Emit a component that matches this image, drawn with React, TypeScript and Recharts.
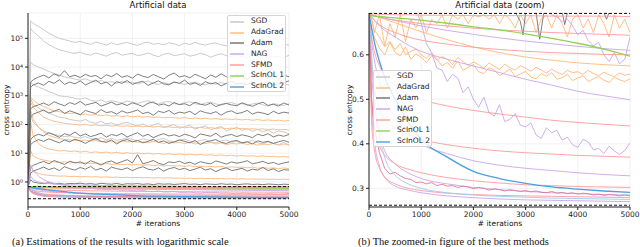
import React from "react";
import { LineChart, Line, XAxis, YAxis, CartesianGrid, ReferenceLine } from "recharts";

// iteration grids
const ITER = [
  0, 50, 100, 200, 300, 400, 500, 600, 700, 800, 900,
  1000, 1100, 1200, 1300, 1400, 1500, 1600, 1700, 1800, 1900,
  2000, 2100, 2200, 2300, 2400, 2500, 2600, 2700, 2800, 2900,
  3000, 3100, 3200, 3300, 3400, 3500, 3600, 3700, 3800, 3900,
  4000, 4100, 4200, 4300, 4400, 4500, 4600, 4700, 4800, 4900, 5000,
];
const ITER_SMOOTH = [0, 50, 100, 200, 300, 500, 750, 1000, 1500, 2000, 2500, 3000, 3500, 4000, 4500, 5000];
const ADAM_SPIKE_ITER = [0, 100, 500, 1000, 2000, 2800, 2900, 2950, 3000, 3200, 3270, 3350, 3700, 3750, 3800, 4500, 4550, 4600, 5000];

// SGD
const SGD_1 = [
  0.693, 400000, 330000, 260000, 200000, 150000, 120000, 100000, 90000, 80000, 72000,
  78000, 68000, 62000, 74000, 66000, 58000, 70000, 60000, 66000, 72000,
  63000, 57000, 68000, 74000, 62000, 66000, 59000, 70000, 64000, 56000,
  67000, 61000, 72000, 63000, 58000, 66000, 69000, 60000, 55000, 64000,
  70000, 61000, 57000, 66000, 62000, 55000, 68000, 60000, 52000, 63000, 58000,
];
const SGD_2 = [
  0.693, 220000, 170000, 120000, 80000, 60000, 48000, 40000, 36000, 32000, 30000,
  33000, 28000, 26000, 31000, 27000, 24000, 29000, 32000, 26000, 28000,
  30000, 25000, 27000, 31000, 26000, 23000, 28000, 30000, 25000, 27000,
  29000, 24000, 26000, 30000, 27000, 22000, 26000, 29000, 25000, 23000,
  27000, 24000, 21000, 26000, 24000, 20000, 25000, 22000, 24000, 21000, 26000,
];
const SGD_3 = [
  0.693, 15000, 12000, 10000, 8500, 7000, 6000, 5200, 4500, 4200, 3800,
  3500, 3900, 3300, 3000, 3400, 2900, 3100, 2700, 3200, 2800,
  3000, 2600, 2900, 3300, 2700, 2500, 2900, 2600, 3100, 2700,
  2500, 2800, 3000, 2600, 2400, 2800, 2500, 2900, 2600, 2300,
  2700, 2500, 2800, 2400, 2600, 2200, 2700, 2500, 2300, 2600, 2400,
];
const SGD_4 = [
  0.693, 3000, 2400, 2000, 1700, 1400, 1200, 1000, 950, 900, 820,
  760, 850, 700, 640, 720, 600, 680, 620, 560, 650,
  600, 540, 620, 680, 560, 520, 600, 640, 540, 500,
  580, 620, 530, 490, 560, 600, 520, 470, 550, 580,
  500, 540, 460, 520, 560, 480, 440, 530, 500, 460, 520,
];
const SGD_5 = [
  0.693, 800, 500, 380, 300, 250, 210, 180, 170, 150, 140,
  130, 150, 120, 110, 130, 105, 115, 95, 110, 120,
  100, 90, 105, 85, 95, 110, 80, 90, 100, 75,
  85, 95, 70, 80, 90, 65, 75, 85, 60, 70,
  80, 62, 72, 58, 68, 55, 65, 50, 60, 55, 48,
];
const SGD_6 = [
  0.693, 200, 120, 80, 60, 50, 45, 42, 38, 40, 36,
  34, 38, 32, 30, 35, 29, 33, 28, 31, 34,
  30, 27, 32, 29, 26, 30, 33, 27, 25, 29,
  31, 26, 24, 28, 30, 25, 23, 27, 29, 24,
  26, 22, 25, 28, 23, 21, 25, 22, 20, 24, 19,
];

// AdaGrad
const ADAGRAD_1 = [
  0.693, 900, 700, 520, 420, 350, 300, 280, 260, 240, 250,
  220, 235, 210, 225, 200, 215, 195, 205, 190, 200,
  185, 195, 180, 190, 175, 185, 170, 180, 172, 165,
  175, 160, 170, 158, 165, 155, 162, 150, 158, 148,
  155, 145, 152, 140, 150, 138, 146, 135, 142, 132, 138,
];
const ADAGRAD_2 = [
  0.693, 600, 400, 260, 180, 150, 130, 120, 110, 105, 100,
  96, 102, 92, 98, 90, 95, 88, 93, 86, 91,
  85, 89, 83, 88, 81, 86, 80, 84, 78, 83,
  77, 81, 76, 80, 74, 78, 73, 77, 72, 75,
  70, 74, 69, 72, 68, 71, 66, 70, 65, 68, 64,
];
const ADAGRAD_3 = [
  0.693, 300, 150, 80, 55, 42, 36, 33, 30, 29, 28,
  27, 29, 26, 28, 25, 27, 26, 24, 27, 25,
  26, 24, 25, 23, 26, 24, 22, 25, 23, 24,
  22, 24, 21, 23, 22, 24, 21, 23, 20, 22,
  21, 23, 20, 22, 19, 21, 20, 22, 19, 21, 20,
];
const ADAGRAD_4 = [
  0.693, 120, 40, 22, 16, 14, 13, 12, 12.5, 11.5, 12,
  11, 11.8, 10.6, 11.2, 10.4, 11, 10.2, 10.8, 9.9, 10.5,
  9.8, 10.3, 9.6, 10.1, 9.4, 9.9, 9.2, 9.7, 9.0, 9.5,
  8.9, 9.3, 8.7, 9.1, 8.5, 8.9, 8.4, 8.7, 8.2, 8.6,
  8.0, 8.4, 7.9, 8.2, 7.8, 8.1, 7.6, 7.9, 7.4, 7.7, 7.3,
];
const ADAGRAD_5 = [
  0.693, 12, 8, 6.5, 5.8, 5.4, 5.0, 4.8, 5.1, 4.6, 4.9,
  4.5, 4.7, 4.3, 4.6, 4.2, 4.4, 4.1, 4.3, 4.0, 4.2,
  3.9, 4.1, 3.8, 4.0, 3.7, 3.9, 3.6, 3.8, 3.6, 3.7,
  3.5, 3.7, 3.4, 3.6, 3.4, 3.5, 3.3, 3.5, 3.2, 3.4,
  3.2, 3.3, 3.1, 3.3, 3.0, 3.2, 3.0, 3.1, 2.9, 3.1, 2.9,
];
const ADAGRAD_6 = [
  0.693, 3.5, 2.4, 2.0, 1.8, 1.7, 1.65, 1.6, 1.62, 1.55, 1.58,
  1.52, 1.55, 1.5, 1.53, 1.47, 1.5, 1.45, 1.48, 1.43, 1.46,
  1.42, 1.44, 1.4, 1.43, 1.38, 1.41, 1.37, 1.4, 1.35, 1.38,
  1.34, 1.36, 1.32, 1.35, 1.31, 1.33, 1.3, 1.32, 1.28, 1.31,
  1.27, 1.3, 1.26, 1.28, 1.25, 1.27, 1.24, 1.26, 1.23, 1.25, 1.22,
];
const ADAGRAD_7 = [
  0.693, 0.66, 0.64, 0.615, 0.6, 0.628, 0.605, 0.598, 0.618, 0.59, 0.602,
  0.595, 0.582, 0.598, 0.59, 0.575, 0.583, 0.57, 0.586, 0.565, 0.572,
  0.578, 0.562, 0.558, 0.571, 0.566, 0.553, 0.56, 0.568, 0.551, 0.557,
  0.563, 0.55, 0.546, 0.558, 0.552, 0.56, 0.545, 0.549, 0.556, 0.542,
  0.548, 0.553, 0.54, 0.546, 0.551, 0.543, 0.538, 0.549, 0.544, 0.54, 0.546,
];
const ADAGRAD_8 = [
  0.693, 0.68, 0.655, 0.64, 0.618, 0.63, 0.612, 0.625, 0.6, 0.608, 0.613,
  0.6, 0.592, 0.605, 0.588, 0.596, 0.59, 0.578, 0.594, 0.585, 0.576,
  0.584, 0.578, 0.57, 0.582, 0.574, 0.567, 0.579, 0.571, 0.566, 0.575,
  0.57, 0.563, 0.572, 0.566, 0.559, 0.568, 0.561, 0.556, 0.565, 0.56,
  0.562, 0.556, 0.565, 0.558, 0.553, 0.561, 0.555, 0.551, 0.559, 0.554, 0.557,
];
const ADAGRAD_9 = [
  0.693, 0.68, 0.65, 0.69, 0.62, 0.67, 0.64, 0.69, 0.63, 0.68, 0.66,
  0.69, 0.65, 0.68, 0.67, 0.69, 0.66, 0.69, 0.68, 0.69, 0.67,
  0.69, 0.685, 0.69, 0.68, 0.69, 0.67, 0.69, 0.68, 0.66, 0.69,
  0.67, 0.69, 0.65, 0.68, 0.69, 0.66, 0.69, 0.67, 0.64, 0.68,
  0.69, 0.66, 0.68, 0.65, 0.69, 0.67, 0.64, 0.69, 0.66, 0.68, 0.65,
];
const ADAGRAD_SMOOTH = [0.693, 0.69, 0.688, 0.684, 0.68, 0.672, 0.662, 0.652, 0.634, 0.618, 0.605, 0.595, 0.588, 0.582, 0.578, 0.575];

// Adam
const ADAM_1 = [
  0.693, 3000, 3600, 4500, 5200, 4200, 5800, 4800, 7500, 4600, 5200,
  4300, 5600, 4700, 5100, 3900, 5400, 4600, 6000, 4400, 5000,
  4100, 5700, 4800, 4300, 5500, 4600, 3800, 5200, 6200, 4500,
  5000, 4200, 5600, 4700, 3900, 5300, 4400, 5800, 4600, 4100,
  5400, 4700, 3700, 5100, 4500, 5900, 4200, 4900, 3800, 5200, 4600,
];
const ADAM_2 = [
  0.693, 2000, 2400, 2800, 2300, 3200, 2700, 3600, 2500, 3000, 2600,
  3300, 2400, 2900, 3500, 2600, 3000, 2200, 3100, 2700, 3400,
  2500, 2900, 3200, 2300, 2800, 3300, 2600, 2400, 3000, 2700,
  3500, 2500, 2800, 2300, 3100, 2600, 2900, 2200, 2700, 3200,
  2500, 2800, 2400, 3000, 2100, 2700, 3100, 2400, 2600, 2900, 3300,
];
const ADAM_3 = [
  0.693, 350, 420, 480, 560, 460, 620, 520, 450, 580, 500,
  640, 470, 530, 590, 440, 510, 600, 480, 540, 460,
  570, 500, 420, 550, 610, 470, 520, 440, 580, 490,
  530, 450, 600, 510, 470, 560, 420, 500, 540, 480,
  450, 570, 490, 430, 520, 600, 460, 510, 440, 560, 480,
];
const ADAM_4 = [
  0.693, 180, 230, 270, 320, 250, 290, 340, 240, 300, 260,
  220, 310, 270, 240, 330, 260, 280, 230, 300, 250,
  280, 320, 240, 270, 210, 290, 260, 310, 230, 270,
  250, 290, 220, 300, 260, 240, 280, 210, 270, 300,
  240, 260, 310, 230, 270, 250, 220, 290, 240, 270, 250,
];
const ADAM_5 = [
  0.693, 30, 38, 46, 40, 52, 44, 36, 48, 42, 55,
  40, 47, 38, 43, 50, 36, 45, 41, 49, 37,
  44, 52, 39, 46, 35, 42, 48, 40, 44, 38,
  46, 41, 34, 47, 43, 39, 50, 36, 42, 45,
  38, 44, 40, 35, 46, 41, 48, 37, 43, 39, 45,
];
const ADAM_6 = [
  0.693, 20, 24, 30, 26, 32, 27, 23, 29, 25, 31,
  27, 22, 28, 33, 26, 24, 29, 21, 27, 30,
  25, 28, 23, 26, 31, 24, 27, 22, 25, 29,
  26, 23, 28, 20, 25, 27, 30, 24, 22, 26,
  28, 23, 25, 21, 27, 24, 26, 22, 25, 28, 24,
];
const ADAM_7 = [
  0.693, 3.2, 3.8, 4.5, 5.2, 4.3, 5.6, 4.8, 4.1, 5.3, 4.6,
  5.0, 4.2, 5.5, 4.7, 3.9, 4.9, 5.4, 4.4, 5.1, 6.0,
  4.6, 9.0, 4.3, 4.8, 5.6, 4.5, 4.0, 5.0, 4.7, 5.3,
  4.4, 4.9, 4.1, 5.1, 4.6, 4.3, 5.4, 4.8, 4.2, 5.0,
  4.5, 4.9, 5.5, 4.3, 4.7, 5.2, 4.4, 4.8, 4.1, 4.6, 5.0,
];
const ADAM_8 = [
  0.693, 2.0, 2.4, 2.8, 3.3, 2.7, 3.1, 2.5, 3.4, 2.9, 2.6,
  3.2, 2.8, 3.5, 2.6, 3.0, 2.4, 3.3, 2.9, 2.7, 3.1,
  2.5, 3.0, 3.4, 2.8, 2.6, 3.1, 2.4, 2.9, 3.2, 2.7,
  3.0, 2.5, 2.8, 3.3, 2.6, 2.9, 2.3, 2.8, 3.1, 2.5,
  2.7, 3.0, 2.4, 2.8, 2.6, 3.2, 2.5, 2.9, 2.3, 2.7, 2.6,
];
const ADAM_9 = [
  0.693, 1.2, 1.0, 0.92, 0.88, 0.95, 0.86, 0.9, 0.84, 0.89, 0.87,
  0.91, 0.85, 0.88, 0.83, 0.9, 0.86, 0.84, 0.89, 0.82, 0.87,
  0.85, 0.88, 0.83, 0.86, 0.81, 0.87, 0.84, 0.86, 0.82, 0.85,
  0.88, 0.83, 0.85, 0.81, 0.86, 0.84, 0.82, 0.87, 0.83, 0.85,
  0.8, 0.84, 0.86, 0.82, 0.84, 0.81, 0.85, 0.83, 0.8, 0.84, 0.82,
];
const ADAM_SPIKES = [0.693, 0.7, 0.698, 0.697, 0.697, 0.697, 0.675, 0.645, 0.695, 0.696, 0.635, 0.695, 0.696, 0.668, 0.695, 0.696, 0.68, 0.695, 0.696];

// NAG
const NAG_NOISY_1 = [
  0.693, 4.0, 2.5, 1.6, 1.2, 1.0, 0.9, 0.82, 0.76, 0.72, 0.7,
  0.672, 0.625, 0.605, 0.57, 0.566, 0.54, 0.556, 0.548, 0.515, 0.528,
  0.5, 0.482, 0.505, 0.47, 0.462, 0.488, 0.45, 0.455, 0.468, 0.442,
  0.438, 0.447, 0.42, 0.412, 0.436, 0.425, 0.43, 0.408, 0.415, 0.398,
  0.392, 0.41, 0.404, 0.386, 0.39, 0.378, 0.395, 0.384, 0.376, 0.385, 0.402,
];
const NAG_NOISY_2 = [
  0.693, 1.6, 1.2, 1.0, 0.92, 0.88, 0.85, 0.83, 0.81, 0.8, 0.79,
  0.78, 0.77, 0.775, 0.76, 0.765, 0.75, 0.755, 0.745, 0.75, 0.74,
  0.745, 0.735, 0.74, 0.73, 0.735, 0.725, 0.73, 0.72, 0.725, 0.715,
  0.72, 0.71, 0.715, 0.705, 0.7, 0.69, 0.685, 0.675, 0.68, 0.665,
  0.645, 0.655, 0.632, 0.62, 0.628, 0.6, 0.585, 0.605, 0.58, 0.59, 0.64,
];
const NAG_1 = [0.693, 0.685, 0.678, 0.665, 0.655, 0.64, 0.622, 0.608, 0.59, 0.575, 0.56, 0.545, 0.532, 0.518, 0.508, 0.499];
const NAG_2 = [0.693, 0.69, 0.688, 0.685, 0.682, 0.677, 0.671, 0.665, 0.655, 0.646, 0.638, 0.631, 0.625, 0.619, 0.614, 0.61];
const NAG_3 = [0.693, 0.63, 0.59, 0.54, 0.5, 0.46, 0.425, 0.4, 0.378, 0.362, 0.352, 0.345, 0.34, 0.335, 0.331, 0.328];
const NAG_4 = [0.693, 0.56, 0.49, 0.42, 0.385, 0.355, 0.335, 0.322, 0.31, 0.302, 0.297, 0.293, 0.29, 0.288, 0.286, 0.285];
const NAG_5 = [0.693, 0.48, 0.41, 0.35, 0.325, 0.305, 0.296, 0.29, 0.283, 0.279, 0.276, 0.274, 0.273, 0.272, 0.271, 0.27];

// SFMD
const SFMD_NOISY = [
  0.693, 0.5, 0.44, 0.38, 0.345, 0.332, 0.336, 0.328, 0.322, 0.32, 0.313,
  0.314, 0.31, 0.313, 0.306, 0.309, 0.305, 0.306, 0.302, 0.305, 0.303,
  0.299, 0.302, 0.3, 0.296, 0.299, 0.297, 0.294, 0.297, 0.295, 0.293,
  0.295, 0.292, 0.294, 0.291, 0.29, 0.293, 0.289, 0.291, 0.288, 0.29,
  0.287, 0.289, 0.288, 0.285, 0.287, 0.284, 0.286, 0.285, 0.283, 0.285, 0.283,
];
const SFMD_1 = [0.693, 0.692, 0.692, 0.691, 0.691, 0.69, 0.69, 0.689, 0.689, 0.688, 0.688, 0.688, 0.687, 0.687, 0.687, 0.686];
const SFMD_2 = [0.693, 0.69, 0.688, 0.685, 0.682, 0.678, 0.674, 0.67, 0.665, 0.66, 0.656, 0.653, 0.65, 0.648, 0.646, 0.644];
const SFMD_3 = [0.693, 0.685, 0.678, 0.668, 0.66, 0.65, 0.64, 0.633, 0.624, 0.617, 0.612, 0.608, 0.605, 0.603, 0.601, 0.6];
const SFMD_4 = [0.693, 0.64, 0.61, 0.575, 0.555, 0.53, 0.512, 0.5, 0.485, 0.475, 0.467, 0.46, 0.453, 0.448, 0.444, 0.44];
const SFMD_5 = [0.693, 0.58, 0.53, 0.48, 0.455, 0.435, 0.42, 0.41, 0.398, 0.39, 0.384, 0.38, 0.377, 0.374, 0.372, 0.37];
const SFMD_6 = [0.693, 0.5, 0.44, 0.395, 0.375, 0.355, 0.343, 0.335, 0.324, 0.317, 0.312, 0.308, 0.306, 0.304, 0.303, 0.302];
const SFMD_7 = [0.693, 0.45, 0.39, 0.345, 0.325, 0.31, 0.3, 0.295, 0.289, 0.286, 0.284, 0.283, 0.282, 0.281, 0.28, 0.279];

// ScInOL
const SCINOL1 = [0.693, 0.688, 0.687, 0.686, 0.685, 0.683, 0.681, 0.678, 0.671, 0.663, 0.656, 0.647, 0.637, 0.626, 0.613, 0.597];
const SCINOL2_A = [0.693, 0.66, 0.63, 0.585, 0.55, 0.5, 0.45, 0.41, 0.37, 0.338, 0.322, 0.311, 0.303, 0.298, 0.294, 0.291];
const SCINOL2_B = [0.693, 0.6, 0.52, 0.42, 0.37, 0.33, 0.31, 0.3, 0.29, 0.285, 0.282, 0.28, 0.278, 0.277, 0.276, 0.275];

const METHODS = ["SGD", "AdaGrad", "Adam", "NAG", "SFMD", "ScInOL 1", "ScInOL 2"];
const COLORS: Record<string, string> = {
  "SGD": "#c4c4c4",
  "AdaGrad": "#ffb87a",
  "Adam": "#6f6f6f",
  "NAG": "#c8a6e8",
  "SFMD": "#ff9a9a",
  "ScInOL 1": "#8fd356",
  "ScInOL 2": "#4aa0e2",
};

const X_TICKS = [0, 1000, 2000, 3000, 4000, 5000];
const LOG_TICKS = [1, 10, 100, 1000, 10000, 100000];
const LIN_TICKS = [0.3, 0.4, 0.5, 0.6];
const REF_LEVELS = [0.693, 0.262];
const SUP = ["⁰", "¹", "²", "³", "⁴", "⁵", "⁶"];

type Run = { method: string; xs: number[]; ys: number[]; smooth?: boolean; w?: number; color?: string };

const RUNS: Run[] = [
  { method: "SGD", xs: ITER, ys: SGD_1 },
  { method: "SGD", xs: ITER, ys: SGD_2 },
  { method: "SGD", xs: ITER, ys: SGD_3 },
  { method: "SGD", xs: ITER, ys: SGD_4 },
  { method: "SGD", xs: ITER, ys: SGD_5 },
  { method: "SGD", xs: ITER, ys: SGD_6 },
  { method: "AdaGrad", xs: ITER, ys: ADAGRAD_1 },
  { method: "AdaGrad", xs: ITER, ys: ADAGRAD_2 },
  { method: "AdaGrad", xs: ITER, ys: ADAGRAD_3 },
  { method: "AdaGrad", xs: ITER, ys: ADAGRAD_4 },
  { method: "AdaGrad", xs: ITER, ys: ADAGRAD_5 },
  { method: "AdaGrad", xs: ITER, ys: ADAGRAD_6 },
  { method: "AdaGrad", xs: ITER, ys: ADAGRAD_9 },
  { method: "AdaGrad", xs: ITER, ys: ADAGRAD_7 },
  { method: "AdaGrad", xs: ITER, ys: ADAGRAD_8 },
  { method: "AdaGrad", xs: ITER_SMOOTH, ys: ADAGRAD_SMOOTH, smooth: true },
  { method: "Adam", xs: ITER, ys: ADAM_1 },
  { method: "Adam", xs: ITER, ys: ADAM_2 },
  { method: "Adam", xs: ITER, ys: ADAM_3 },
  { method: "Adam", xs: ITER, ys: ADAM_4 },
  { method: "Adam", xs: ITER, ys: ADAM_5 },
  { method: "Adam", xs: ITER, ys: ADAM_6 },
  { method: "Adam", xs: ITER, ys: ADAM_7 },
  { method: "Adam", xs: ITER, ys: ADAM_8 },
  { method: "Adam", xs: ITER, ys: ADAM_9 },
  { method: "Adam", xs: ADAM_SPIKE_ITER, ys: ADAM_SPIKES },
  { method: "NAG", xs: ITER, ys: NAG_NOISY_1 },
  { method: "NAG", xs: ITER, ys: NAG_NOISY_2 },
  { method: "NAG", xs: ITER_SMOOTH, ys: NAG_1, smooth: true },
  { method: "NAG", xs: ITER_SMOOTH, ys: NAG_2, smooth: true },
  { method: "NAG", xs: ITER_SMOOTH, ys: NAG_3, smooth: true },
  { method: "NAG", xs: ITER_SMOOTH, ys: NAG_4, smooth: true },
  { method: "NAG", xs: ITER_SMOOTH, ys: NAG_5, smooth: true },
  { method: "SFMD", xs: ITER_SMOOTH, ys: SFMD_1, smooth: true },
  { method: "SFMD", xs: ITER_SMOOTH, ys: SFMD_2, smooth: true },
  { method: "SFMD", xs: ITER_SMOOTH, ys: SFMD_3, smooth: true },
  { method: "SFMD", xs: ITER_SMOOTH, ys: SFMD_4, smooth: true },
  { method: "SFMD", xs: ITER_SMOOTH, ys: SFMD_5, smooth: true },
  { method: "SFMD", xs: ITER_SMOOTH, ys: SFMD_6, smooth: true },
  { method: "SFMD", xs: ITER_SMOOTH, ys: SFMD_7, smooth: true },
  { method: "SFMD", xs: ITER, ys: SFMD_NOISY, color: "#de7896" },
  { method: "ScInOL 1", xs: ITER_SMOOTH, ys: SCINOL1, smooth: true, w: 1.3 },
  { method: "ScInOL 2", xs: ITER_SMOOTH, ys: SCINOL2_B, smooth: true, color: "#9cc9ee" },
  { method: "ScInOL 2", xs: ITER_SMOOTH, ys: SCINOL2_A, smooth: true, w: 1.3 },
];

const toPoints = (xs: number[], ys: number[]) =>
  ys.slice(0, xs.length).map((y, i) => ({ x: xs[i], y }));

const tickStyle = { fontSize: 7.5, fill: "#222", fontFamily: "DejaVu Sans" };
const FONT = "DejaVu Sans";

function Lines() {
  return RUNS.map((r, i) => (
    <Line
      key={i}
      data={toPoints(r.xs, r.ys)}
      dataKey="y"
      type={r.smooth ? "monotone" : "linear"}
      stroke={r.color ?? COLORS[r.method]}
      strokeWidth={r.w ?? 0.9}
      dot={false}
      activeDot={false}
      isAnimationActive={false}
    />
  ));
}

function LegendBox({ x, y }: { x: number; y: number }) {
  return (
    <div
      style={{
        position: "absolute", left: x, top: y, width: 59, height: 77,
        background: "rgba(255,255,255,0.82)", border: "1px solid #d4d4d4",
        borderRadius: 2, boxSizing: "border-box",
      }}
    >
      {METHODS.map((m, i) => (
        <div
          key={m}
          style={{
            position: "absolute", left: 2, top: 0.4 + i * 10.8, height: 10.8,
            display: "flex", alignItems: "center", whiteSpace: "nowrap",
          }}
        >
          <svg width={14} height={4}>
            <line x1={0} y1={2} x2={14} y2={2} stroke={COLORS[m]} strokeWidth={1.4} />
          </svg>
          <span style={{ marginLeft: 7, fontSize: 7.5, color: "#222", lineHeight: "10.8px" }}>{m}</span>
        </div>
      ))}
    </div>
  );
}

function Text({ x, y, children, size = 7.5, rotate = false }: {
  x: number; y: number; children: React.ReactNode; size?: number; rotate?: boolean
}) {
  return (
    <div
      style={{
        position: "absolute", left: x, top: y, fontSize: size, color: "#111",
        whiteSpace: "nowrap", lineHeight: 1, fontFamily: FONT,
        transform: `translate(-50%, -50%)${rotate ? " rotate(-90deg)" : ""}`,
      }}
    >
      {children}
    </div>
  );
}

const captionStyle: React.CSSProperties = {
  position: "absolute", top: 236, fontFamily: "Liberation Serif", fontSize: 10.5,
  lineHeight: "11px", whiteSpace: "nowrap", color: "#111",
};

export default function App() {
  return (
    <div
      style={{
        position: "absolute", left: 0, top: 0, width: 640, height: 247,
        overflow: "hidden", background: "#fff", fontFamily: FONT,
      }}
    >
      {/* left: full range, log scale */}
      <div style={{ position: "absolute", left: 0, top: 0 }}>
        <LineChart width={320} height={247} margin={{ top: 13, right: 31, bottom: 20, left: 0 }}>
          <CartesianGrid stroke="#ebebeb" strokeWidth={0.7} />
          <XAxis
            type="number" dataKey="x" domain={[0, 5000]} ticks={X_TICKS} allowDataOverflow
            height={20} tickSize={3} tick={tickStyle} axisLine={{ stroke: "#222" }} tickLine={{ stroke: "#222" }}
          />
          <XAxis xAxisId="top" orientation="top" type="number" domain={[0, 5000]} height={0} tick={false} tickLine={false} axisLine={{ stroke: "#b0b0b0" }} />
          <YAxis
            scale="log" type="number" domain={[0.135, 760000]} ticks={LOG_TICKS} allowDataOverflow
            width={28} tickSize={3} tick={tickStyle} axisLine={{ stroke: "#222" }} tickLine={{ stroke: "#222" }}
            tickFormatter={(v: number) => "10" + SUP[Math.round(Math.log10(v))]}
          />
          <YAxis yAxisId="right" orientation="right" width={0} tick={false} tickLine={false} axisLine={{ stroke: "#b0b0b0" }} />
          {Lines()}
          {REF_LEVELS.map(v => (
            <ReferenceLine key={v} y={v} stroke="#111" strokeDasharray="3 2" strokeWidth={1} />
          ))}
        </LineChart>
      </div>

      {/* right: zoom, linear scale */}
      <div style={{ position: "absolute", left: 320, top: 0 }}>
        <LineChart width={320} height={247} margin={{ top: 13, right: 10, bottom: 20, left: 0 }}>
          <CartesianGrid stroke="#ebebeb" strokeWidth={0.7} />
          <XAxis
            type="number" dataKey="x" domain={[0, 5000]} ticks={X_TICKS} allowDataOverflow
            height={20} tickSize={3} tick={tickStyle} axisLine={{ stroke: "#222" }} tickLine={{ stroke: "#222" }}
          />
          <XAxis xAxisId="top" orientation="top" type="number" domain={[0, 5000]} height={0} tick={false} tickLine={false} axisLine={{ stroke: "#b0b0b0" }} />
          <YAxis
            type="number" domain={[0.258, 0.694]} ticks={LIN_TICKS} allowDataOverflow
            width={49} tickSize={3} tick={tickStyle} axisLine={{ stroke: "#222" }} tickLine={{ stroke: "#222" }}
          />
          <YAxis yAxisId="right" orientation="right" width={0} tick={false} tickLine={false} axisLine={{ stroke: "#b0b0b0" }} />
          {Lines()}
          {REF_LEVELS.map(v => (
            <ReferenceLine key={v} y={v} stroke="#111" strokeDasharray="3 2" strokeWidth={1} />
          ))}
        </LineChart>
      </div>

      <Text x={158} y={5} size={8.5}>Artificial data</Text>
      <Text x={500} y={5} size={8.5}>Artificial data (zoom)</Text>
      <Text x={7} y={110} rotate>cross entropy</Text>
      <Text x={350} y={110} rotate>cross entropy</Text>
      <Text x={158} y={224}>#  iterations</Text>
      <Text x={500} y={224}>#  iterations</Text>

      <LegendBox x={227} y={15} />
      <LegendBox x={373} y={70} />

      <div style={{ ...captionStyle, left: 12 }}>
        (a) Estimations of the results with logarithmic scale
      </div>
      <div style={{ ...captionStyle, left: 358 }}>
        (b) The zoomed-in figure of the best methods
      </div>
    </div>
  );
}
